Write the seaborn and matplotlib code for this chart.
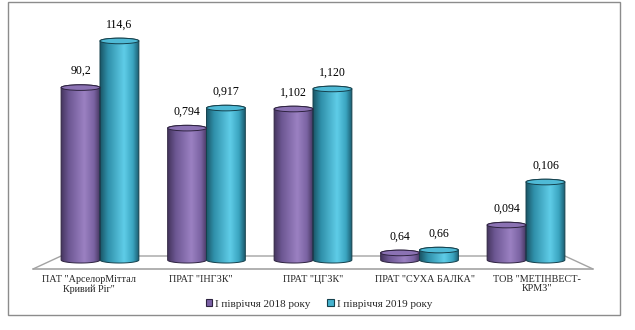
import numpy as np
import pandas as pd
import matplotlib
matplotlib.use("Agg")
import matplotlib.pyplot as plt
import seaborn as sns
from matplotlib.patches import Ellipse, Rectangle, Patch, PathPatch
from matplotlib.path import Path
from matplotlib.colors import LinearSegmentedColormap

# ---------------- data ----------------
companies = ['ПАТ "АрселорМіттал\nКривий Ріг"', 'ПРАТ "ІНГЗК"', 'ПРАТ "ЦГЗК"',
             'ПРАТ "СУХА БАЛКА"', 'ТОВ "МЕТІНВЕСТ-\nКРМЗ"']
periods = ['І півріччя 2018 року', 'І півріччя 2019 року']
# bar heights as drawn in the source chart (chart units)
heights_2018 = [90.2, 69.0, 79.0, 3.7, 18.3]
heights_2019 = [114.6, 79.5, 89.5, 5.2, 40.8]
# data labels shown above the bars
labels_2018 = ['90,2', '0,794', '1,102', '0,64', '0,094']
labels_2019 = ['114,6', '0,917', '1,120', '0,66', '0,106']

df = pd.DataFrame({
    'company': companies * 2,
    'period': [periods[0]] * 5 + [periods[1]] * 5,
    'value': heights_2018 + heights_2019,
})

sns.set_theme(style='white')
plt.rcParams['font.family'] = ['Liberation Serif', 'DejaVu Serif']

W, H = 635, 330
fig = plt.figure(figsize=(W / 100, H / 100), dpi=100)
ax = fig.add_axes([33 / W, 1 - 269 / H, (593 - 33) / W, (269 - 10) / H])

purple = '#8a70b0'
blue = '#4cbad6'
bar_width = 0.73
sns.barplot(data=df, x='company', y='value', hue='period', palette=[purple, blue],
            width=bar_width, saturation=1, dodge=True, ax=ax, legend=False)

XL, XR = -0.629, 4.629
YB, YT = -4.7, 130.8
ax.set_xlim(XL, XR)
ax.set_ylim(YB, YT)
px_per_unit = (269 - 10) / (YT - YB)
b_bot = 3.0 / px_per_unit
b_top = 2.8 / px_per_unit

cmap_p = LinearSegmentedColormap.from_list('p', [(0, '#45365f'), (0.2, '#6d5793'), (0.6, '#9b81c2'),
                                                 (0.85, '#7a63a2'), (1, '#473862')])
cmap_b = LinearSegmentedColormap.from_list('b', [(0, '#1a5566'), (0.2, '#2f8fa9'), (0.62, '#5fcde8'),
                                                 (0.85, '#3aa4c0'), (1, '#1d5f72')])
top_col = {0: '#8b72b3', 1: '#4fbad6'}
edge_col = {0: '#2e2340', 1: '#15414d'}
cmaps = {0: cmap_p, 1: cmap_b}
labels = {0: labels_2018, 1: labels_2019}

grad = np.linspace(0, 1, 200)[np.newaxis, :]
for hi, cont in enumerate(ax.containers):
    for ci, rect in enumerate(cont.patches):
        x0 = rect.get_x()
        w = rect.get_width()
        h = rect.get_height()
        rect.set_visible(False)
        cx = x0 + w / 2
        a = w / 2
        t1 = np.linspace(np.pi, 2 * np.pi, 40)
        t2 = np.linspace(0, np.pi, 40)
        pts = [(cx + a * np.cos(t), b_bot * np.sin(t)) for t in t1]
        pts += [(cx + a * np.cos(t), h + b_top * np.sin(t)) for t in t2]
        pts.append(pts[0])
        codes = [Path.MOVETO] + [Path.LINETO] * (len(pts) - 2) + [Path.CLOSEPOLY]
        sil = PathPatch(Path(pts, codes), transform=ax.transData, fc='none',
                        ec=edge_col[hi], lw=0.7, zorder=3)
        ax.add_patch(sil)
        im = ax.imshow(grad, extent=[x0, x0 + w, -b_bot, h + b_top], aspect='auto',
                       cmap=cmaps[hi], interpolation='bicubic', zorder=2)
        im.set_clip_path(sil)
        ax.add_patch(Ellipse((cx, h), w, 2 * b_top, fc=top_col[hi], ec=edge_col[hi],
                             lw=0.7, zorder=4))
        ax.annotate(labels[hi][ci], (cx, h), xytext=(0, 16.5), textcoords='offset pixels',
                    ha='center', va='center', fontsize=8.6, color='black', zorder=5)

ax.set_xlim(XL, XR)
ax.set_ylim(YB, YT)

# floor of the 3D plot
back_y = 2.1
bl, br = -bar_width / 2, len(companies) - 1 + bar_width / 2
floor_col = '#a3a3a3'
ax.plot([XL, XR], [YB, YB], color=floor_col, lw=1.2, zorder=1, clip_on=False)
ax.plot([XL, bl, br, XR], [YB, back_y, back_y, YB], color=floor_col, lw=1.0, zorder=1, clip_on=False)

# category labels along the front edge
step = (XR - XL) / len(companies)
ax.set_xticks([XL + (i + 0.5) * step for i in range(len(companies))])
ax.set_xticklabels(companies, fontsize=7.3, linespacing=1.1)
ax.tick_params(axis='x', length=0, pad=4)
ax.set_yticks([])
ax.set_xlabel('')
ax.set_ylabel('')
for s in ax.spines.values():
    s.set_visible(False)
ax.patch.set_alpha(0)

handles = [Patch(fc='#7b61a6', ec='#2e2340', lw=0.8), Patch(fc='#45b3cf', ec='#15414d', lw=0.8)]
fig.legend(handles, periods, loc='center', bbox_to_anchor=(0.502, 1 - 304 / H), ncol=2,
           frameon=False, fontsize=8, handlelength=0.6, handleheight=0.6,
           handletextpad=0.25, columnspacing=1.5, borderpad=0)

fig.patches.append(Rectangle((8 / W, 1 - 315 / H), (620 - 8) / W, (315 - 2) / H,
                             transform=fig.transFigure, fill=False, ec='#8c8c8c', lw=1))

fig.savefig('out.png', dpi=100)
